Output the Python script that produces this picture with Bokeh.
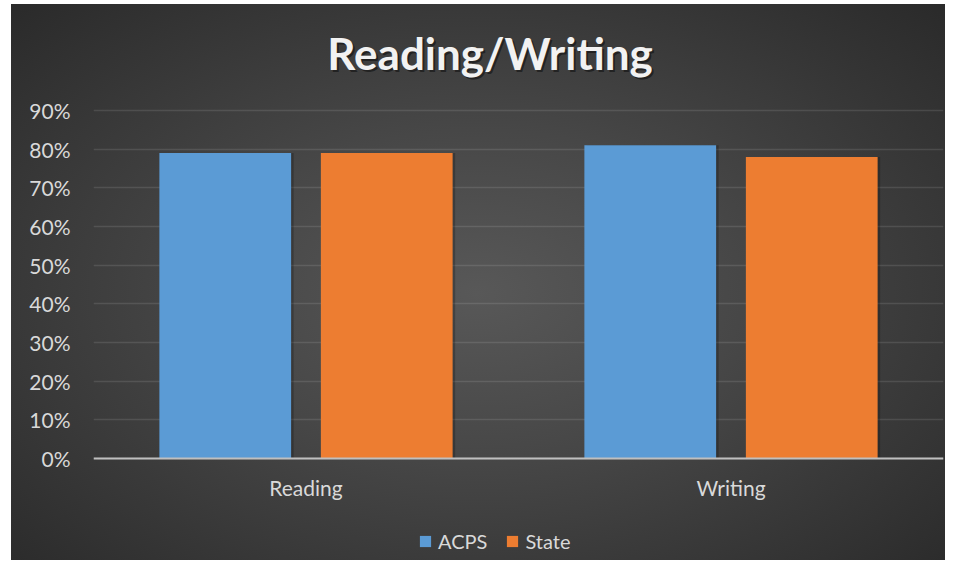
from bokeh.plotting import figure
from bokeh.models import (ColumnDataSource, FactorRange, FixedTicker, NumeralTickFormatter,
                          Legend, LegendItem, Range1d, Label)
from bokeh.transform import dodge
from bokeh.embed import file_html
from bokeh.resources import INLINE

# ---- data ----
categories = ["Reading", "Writing"]
acps = [0.79, 0.81]
state = [0.79, 0.78]
y_ticks = [0.0, 0.1, 0.2, 0.3, 0.4, 0.5, 0.6, 0.7, 0.8, 0.9]
title_text = "Reading/Writing"
series_names = ["ACPS", "State"]

src = ColumnDataSource(data=dict(cat=categories, acps=acps, state=state))

FONT = "Lato"
TXT = "#d9d9d9"

# layout (pixels): the plot frame covers the whole chart area so that the title and
# legend can sit inside it; the value axis 0..0.9 occupies 348 px of it.
FRAME_W, FRAME_H = 850, 552
VALUE_PX = 348
ABOVE_PX = 106   # frame space above the 90% line
y_top_tick = y_ticks[-1]
px_per_unit = VALUE_PX / y_top_tick
y_bottom = -(FRAME_H - VALUE_PX - ABOVE_PX) / px_per_unit
y_top = y_top_tick + ABOVE_PX / px_per_unit

p = figure(width=945, height=560, output_backend="svg", toolbar_location=None,
           frame_width=FRAME_W, frame_height=FRAME_H,
           x_range=FactorRange(*categories, range_padding=0),
           y_range=Range1d(y_bottom, y_top),
           min_border_left=93, min_border_right=2, min_border_top=4, min_border_bottom=4)

p.background_fill_color = None
p.border_fill_color = None
p.outline_line_color = None
p.styles = {
    "background": "radial-gradient(ellipse at 50% 52%, #585858 0%, #474747 40%, #2a2a2a 100%) "
                  "11px 4px / calc(100% - 11px) calc(100% - 4px) no-repeat, #ffffff"
}

# soft bar shadows
p.vbar(x=dodge("cat", -0.19 + 0.006, range=p.x_range), top="acps", width=0.31, source=src,
       fill_color="#000000", fill_alpha=0.22, line_color=None)
p.vbar(x=dodge("cat", 0.19 + 0.006, range=p.x_range), top="state", width=0.31, source=src,
       fill_color="#000000", fill_alpha=0.22, line_color=None)

r1 = p.vbar(x=dodge("cat", -0.19, range=p.x_range), top="acps", width=0.31, source=src,
            fill_color="#5b9bd5", line_color=None)
r2 = p.vbar(x=dodge("cat", 0.19, range=p.x_range), top="state", width=0.31, source=src,
            fill_color="#ed7d31", line_color=None)

# title with shadow (screen units measured from the frame's bottom-left)
title_y = FRAME_H - 48
shadow = Label(x=398.5, y=title_y - 2, x_units="screen", y_units="screen", text=title_text,
               text_font=FONT, text_font_style="bold", text_font_size="44px",
               text_color="#000000", text_alpha=0.45, text_align="center",
               text_baseline="alphabetic")
title = Label(x=396.5, y=title_y, x_units="screen", y_units="screen", text=title_text,
              text_font=FONT, text_font_style="bold", text_font_size="44px",
              text_color="#f2f2f2", text_align="center", text_baseline="alphabetic")
p.add_layout(shadow)
p.add_layout(title)

# axes
p.yaxis.ticker = FixedTicker(ticks=y_ticks)
p.yaxis.formatter = NumeralTickFormatter(format="0%")
p.yaxis.axis_line_color = None
p.yaxis.major_tick_line_color = None
p.yaxis.minor_tick_line_color = None
p.yaxis.major_label_standoff = 17
p.yaxis.major_label_text_font = FONT
p.yaxis.major_label_text_font_size = "21px"
p.yaxis.major_label_text_color = TXT

p.xaxis.fixed_location = 0
p.xaxis.axis_line_color = "#bfbfbf"
p.xaxis.axis_line_width = 2
p.xaxis.major_tick_line_color = None
p.xaxis.minor_tick_line_color = None
p.xaxis.major_label_standoff = 10
p.xaxis.major_label_text_font = FONT
p.xaxis.major_label_text_font_size = "21px"
p.xaxis.major_label_text_color = TXT

p.xgrid.grid_line_color = None
p.ygrid.ticker = FixedTicker(ticks=y_ticks)
p.ygrid.grid_line_color = "#ffffff"
p.ygrid.grid_line_alpha = 0.11
p.ygrid.grid_line_width = 1.5

legend = Legend(items=[LegendItem(label=series_names[0], renderers=[r1]),
                       LegendItem(label=series_names[1], renderers=[r2])],
                orientation="horizontal", location=(325, 3),
                padding=0, margin=0, spacing=18, label_standoff=6,
                glyph_width=14, glyph_height=14,
                label_text_font=FONT, label_text_font_size="20px", label_text_color=TXT,
                border_line_color=None, background_fill_alpha=0)
p.add_layout(legend)

open("out.html", "w").write(file_html(p, INLINE))
